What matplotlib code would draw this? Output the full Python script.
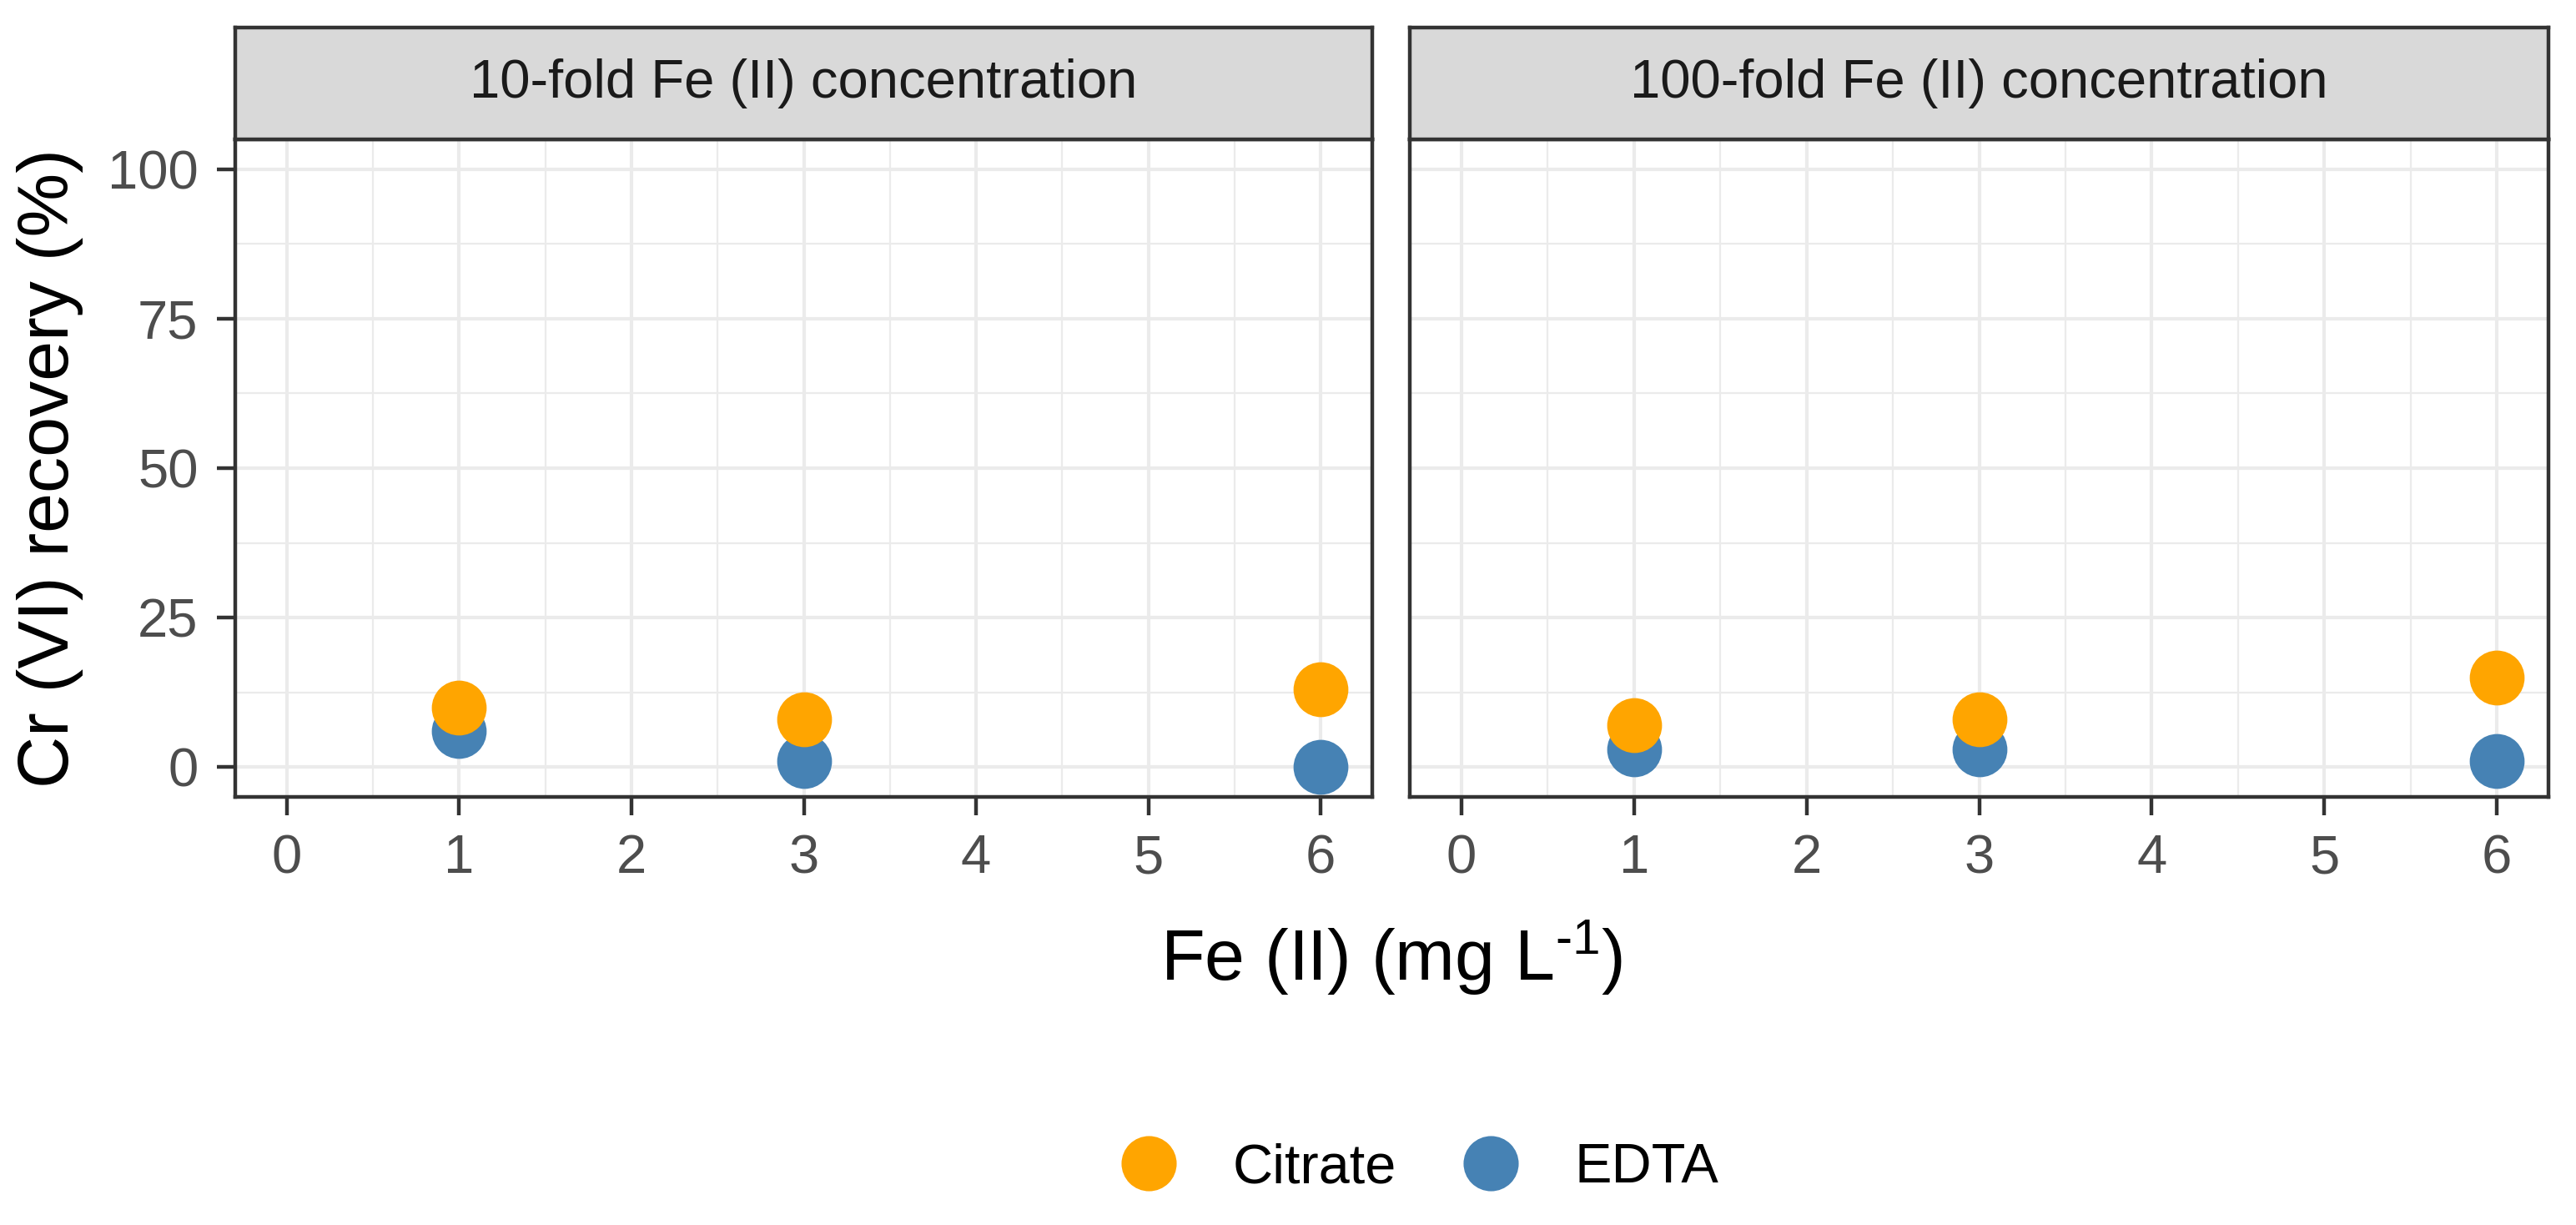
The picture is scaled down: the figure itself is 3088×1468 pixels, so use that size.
import matplotlib
matplotlib.use("Agg")
import matplotlib.pyplot as plt
from matplotlib.lines import Line2D

plt.rcParams["font.family"] = ["Liberation Sans", "DejaVu Sans"]
plt.rcParams["mathtext.fontset"] = "custom"
plt.rcParams["mathtext.rm"] = "Liberation Sans"
plt.rcParams["mathtext.it"] = "Liberation Sans:italic"

# data
panels = ["10-fold Fe (II) concentration", "100-fold Fe (II) concentration"]
fe = [1, 3, 6]
citrate = [[10, 8, 13], [7, 8, 15]]
edta = [[6, 1, 0], [3, 3, 1]]

col_citrate = "#FFA500"
col_edta = "#4682B4"

W, H = 3088, 1468
dpi = 200
fig = plt.figure(figsize=(W / dpi, H / dpi), dpi=dpi)

# panel boxes in pixels: left, right
boxes = [(282, 1645), (1690, 3055)]
p_top, p_bot = 167, 955
s_top = 33

for k, (x0, x1) in enumerate(boxes):
    ax = fig.add_axes([x0 / W, 1 - p_bot / H, (x1 - x0) / W, (p_bot - p_top) / H])
    ax.set_xlim(-0.3, 6.3)
    ax.set_ylim(-5, 105)
    ax.set_xticks(range(0, 7))
    ax.set_xticks([i + 0.5 for i in range(6)], minor=True)
    ax.set_yticks([0, 25, 50, 75, 100])
    ax.set_yticks([12.5, 37.5, 62.5, 87.5], minor=True)
    ax.grid(which="major", color="#EBEBEB", lw=1.5)
    ax.grid(which="minor", color="#EBEBEB", lw=0.8)
    ax.set_axisbelow(True)
    for sp in ax.spines.values():
        sp.set_color("#333333")
        sp.set_linewidth(1.6)
    ax.tick_params(which="major", length=8, width=1.6, color="#333333",
                   labelsize=23.5, labelcolor="#4D4D4D", pad=8)
    ax.tick_params(which="minor", length=0)
    if k > 0:
        ax.set_yticklabels([])
        ax.tick_params(axis="y", which="major", length=0)
    ax.scatter(fe, edta[k], s=560, color=col_edta, linewidths=0, zorder=3)
    ax.scatter(fe, citrate[k], s=560, color=col_citrate, linewidths=0, zorder=4)

    # strip on top
    st = fig.add_axes([x0 / W, 1 - p_top / H, (x1 - x0) / W, (p_top - s_top) / H])
    st.set_facecolor("#D9D9D9")
    st.set_xticks([])
    st.set_yticks([])
    for sp in st.spines.values():
        sp.set_color("#333333")
        sp.set_linewidth(1.6)
    st.text(0.5, 0.5, panels[k], ha="center", va="center", fontsize=23.5,
            color="#1A1A1A", transform=st.transAxes)

fig.text(1668 / W, 1 - 1175 / H, r"Fe (II) (mg L$^{\text{-}1}$)", ha="center",
         va="baseline", fontsize=31)
fig.text(60 / W, 1 - 561 / H, "Cr (VI) recovery (%)", ha="center",
         va="center", rotation=90, fontsize=31)

handles = [
    Line2D([], [], ls="", marker="o", ms=23.8, color=col_citrate, mew=0),
    Line2D([], [], ls="", marker="o", ms=23.8, color=col_edta, mew=0),
]
fig.legend(handles, ["Citrate", "EDTA"], loc="center",
           bbox_to_anchor=(1702 / W, 1 - 1400 / H), ncol=2, frameon=False,
           fontsize=24, handlelength=1.0, handletextpad=1.0,
           columnspacing=1.2, borderpad=0)

fig.savefig("out.png", dpi=dpi, facecolor="white")
